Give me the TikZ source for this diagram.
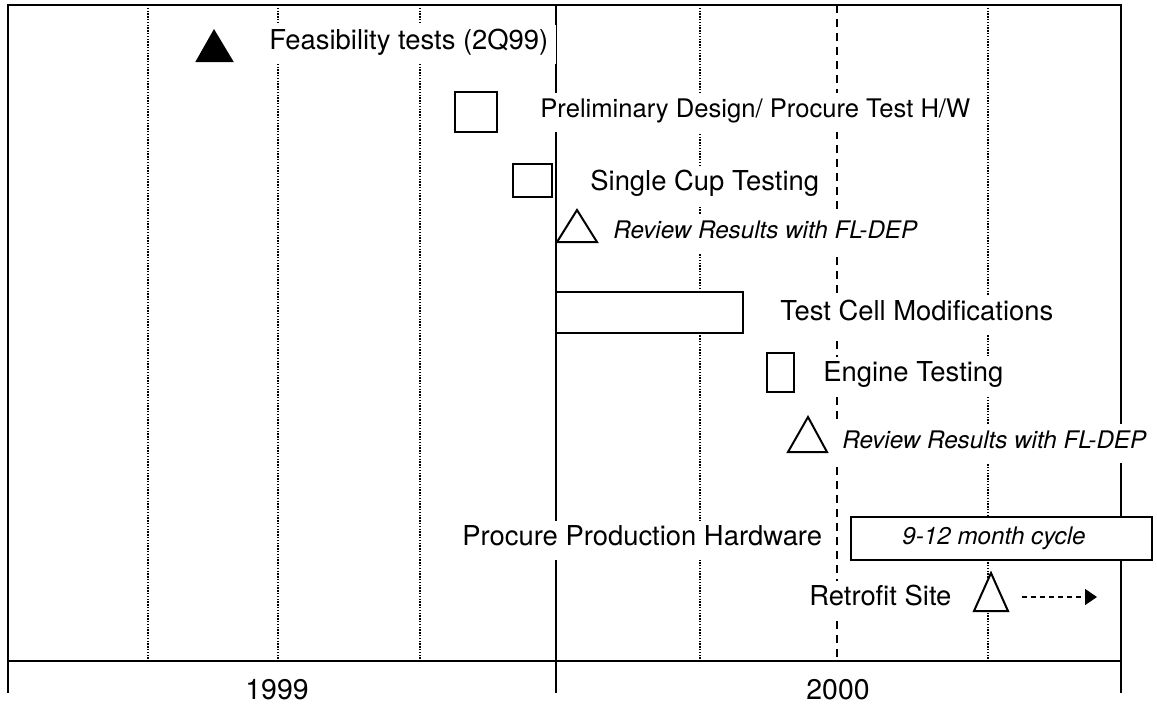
\documentclass[tikz,border=0pt]{standalone}
\usepackage{fontspec}
\setmainfont{TeX Gyre Heros}
\usetikzlibrary{arrows.meta}

\begin{document}
\begin{tikzpicture}[x=0.5pt, y=-0.5pt,
  grid/.style={line width=0.6pt, dash pattern=on 0.7pt off 0.7pt},
  frame/.style={line width=0.9pt},
  bar/.style={draw, line width=1pt, fill=white},
  mile/.style={draw, line width=1pt, fill=white, line join=miter},
  task/.style={anchor=west, fill=white, inner xsep=4pt, inner ysep=5pt, text height=0.75em, text depth=0.2em, font=\fontsize{13.7}{16}\selectfont},
  review/.style={task, font=\fontsize{12.1}{14}\selectfont\itshape},
  year/.style={font=\fontsize{14.2}{17}\selectfont}]
\useasboundingbox (0,0) rectangle (1157,708);

% Quarter grid
\foreach \gx in {148,278,420,700,988}
  \draw[grid] (\gx,5) -- (\gx,661);
\draw[line width=0.6pt, dash pattern=on 4pt off 3pt] (837,5) -- (837,661);
\draw[frame] (556,5) -- (556,693);

% Frame and time axis
\draw[frame] (8,693) -- (8,5) -- (1121,5) -- (1121,693);
\draw[frame] (8,661) -- (1121,661);
\node[year] (y99) at (277,690) {1999};
\node[year] (y00) at (838,690) {2000};

% Feasibility
\draw[fill=black, line width=1pt] (214,31) -- (232,61) -- (197,61) -- cycle;
\node[task] (feas) at (261,44) {Feasibility tests (2Q99)};

% Preliminary design
\draw[bar] (455,92) rectangle (497,132);
\node[task, font=\fontsize{12.8}{15}\selectfont] (prelim) at (532,112) {Preliminary Design/ Procure Test H/W};

% Single cup
\draw[bar] (513,164) rectangle (552,197);
\node[task] (cup) at (582,185) {Single Cup Testing};
\draw[mile] (577,210) -- (597,242) -- (557,242) -- cycle;
\node[review] (rev1) at (605,233) {Review Results with FL-DEP};

% Test cell
\draw[bar] (556,292) rectangle (743,333);
\node[task] (cell) at (772,315) {Test Cell Modifications};

% Engine
\draw[bar] (767,353) rectangle (794,392);
\node[task] (eng) at (815,376) {Engine Testing};
\draw[mile] (808,417) -- (827,452) -- (788,452) -- cycle;
\node[review] (rev2) at (834,443) {Review Results with FL-DEP};

% Production hardware
\node[task] (proc) at (454,540) {Procure Production Hardware};
\draw[bar] (851,517) rectangle (1152,560);
\node[review, anchor=center, fill=none] (cycle) at (994,539) {9-12 month cycle};

% Retrofit
\node[task] (retro) at (801,600) {Retrofit Site};
\draw[mile] (991,573) -- (1008,611) -- (974,611) -- cycle;
\coordinate (arrS) at (1022,597);
\coordinate (arrE) at (1097,597);
\draw[line width=0.7pt, dash pattern=on 2.5pt off 2pt, -{Triangle[length=6pt,width=8pt]}] (arrS) -- (arrE);
\end{tikzpicture}
\end{document}
